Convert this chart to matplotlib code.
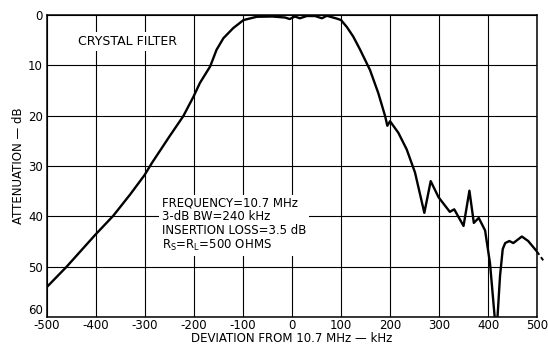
import matplotlib
matplotlib.use("Agg")
import matplotlib.pyplot as plt

# Measured response (deviation kHz, attenuation dB)
freq_khz = [-500, -460, -401, -365, -330, -301, -286, -250, -222, -201, -188,
            -167, -154, -140, -120, -99, -72, -40, -14, -5, 6, 16, 30, 47,
            61, 71, 91, 100, 112, 125, 139, 159, 176, 190, 194.5, 200, 217,
            234, 251, 270, 283, 299, 322, 331, 350, 362, 371, 381, 394, 404,
            414, 416.5, 419, 424.5, 430, 435, 443.5, 451.6, 469, 482, 500]
atten_db = [54.0, 50.0, 43.6, 39.9, 35.6, 31.8, 29.4, 24.1, 20.1, 16.2, 13.5,
            10.2, 6.9, 4.6, 2.6, 1.0, 0.35, 0.3, 0.5, 0.8, 0.3, 0.65, 0.2, 0.2,
            0.65, 0.15, 0.7, 1.0, 2.4, 4.3, 6.9, 10.9, 15.5, 20.1, 22.0, 21.1, 23.4,
            26.7, 31.3, 39.3, 33.0, 36.2, 39.1, 38.6, 41.9, 34.9, 41.3, 40.3, 42.8, 49.3,
            60.5, 62.0, 60.5, 51.8, 46.5, 45.3, 44.9, 45.3, 44.0, 44.9, 47.0]
# dashed extrapolation beyond the axis
ext_khz = [500, 516]
ext_db = [47.0, 49.2]

x_ticks = [-500, -400, -300, -200, -100, 0, 100, 200, 300, 400, 500]
x_labels = ["-500", "-400", "-300", "-200", "-100", "0", "100", "200", "300", "400", "500"]
y_ticks = [0, 10, 20, 30, 40, 50, 60]
y_labels = ["0", "10", "20", "30", "40", "50", "60"]

plt.rcParams['font.family'] = ['DejaVu Sans']

fig = plt.figure(figsize=(5.48, 3.45), dpi=100)
ax = fig.add_axes([0.0858, 0.081, 0.8942, 0.8755])

ax.plot(freq_khz, atten_db, color="black", lw=1.7, solid_joinstyle="round", zorder=4)
ax.plot(ext_khz, ext_db, color="black", lw=1.4, ls=(0, (2, 1.5)), clip_on=False, zorder=4)

ax.set_xlim(-500, 500)
ax.set_ylim(60, 0)
ax.set_xticks(x_ticks)
ax.set_xticklabels(x_labels)
ax.set_yticks(y_ticks)
ax.set_yticklabels(y_labels)
ax.tick_params(length=0, labelsize=8.5)
ax.tick_params(axis="x", pad=1.5)
ax.tick_params(axis="y", pad=3)
ax.get_yticklabels()[-1].set_va("bottom")
ax.grid(True, color="black", lw=0.8)
ax.set_axisbelow(True)
for s in ax.spines.values():
    s.set_linewidth(1.1)

ax.set_xlabel("DEVIATION FROM 10.7 MHz — kHz", fontsize=8.5, labelpad=0)
ax.set_ylabel("ATTENUATION — dB", fontsize=8.5, labelpad=2)

ax.text(-437, 5.3, "CRYSTAL FILTER", fontsize=9, ha="left", va="center",
        bbox=dict(facecolor="white", edgecolor="none", pad=2), zorder=3)
ax.text(-265, 36.0,
        "FREQUENCY=10.7 MHz\n3-dB BW=240 kHz\nINSERTION LOSS=3.5 dB\n$\\mathregular{R_S}$=$\\mathregular{R_L}$=500 OHMS",
        fontsize=8.5, ha="left", va="top", linespacing=1.1,
        bbox=dict(facecolor="white", edgecolor="none", pad=2), zorder=3)

fig.savefig("out.png", dpi=100)
